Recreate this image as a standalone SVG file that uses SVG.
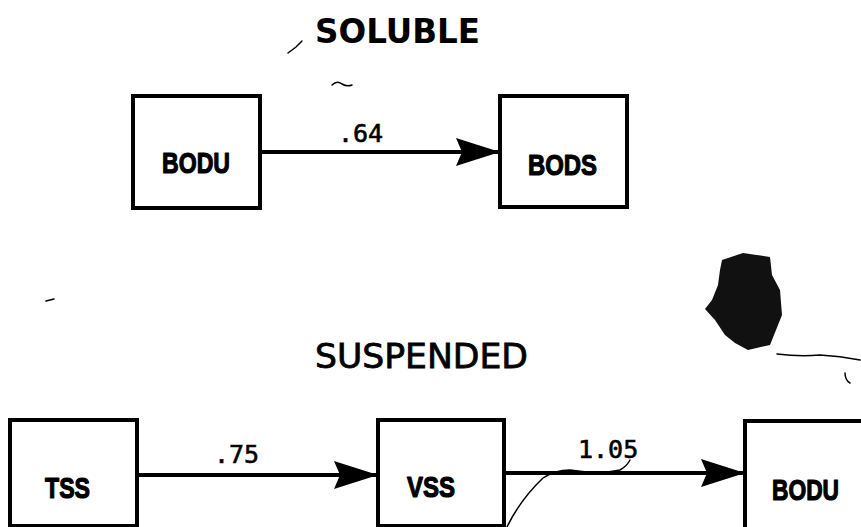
<svg xmlns="http://www.w3.org/2000/svg" width="861" height="527" viewBox="0 0 861 527">
<style>
.box{fill:#fff;stroke:#000;stroke-width:4}
.lbl{font-family:"Liberation Sans",Arial,sans-serif;font-weight:bold;font-size:30px;fill:#000;stroke:#000;stroke-width:1.2;stroke-linejoin:round}
.ttl{font-family:"DejaVu Sans",sans-serif;font-size:34px;fill:#000;stroke:#000;stroke-width:0.8}
.num{font-family:"DejaVu Sans Mono","Liberation Mono",monospace;font-size:25px;fill:#000;stroke:#000;stroke-width:0.6}
.edge{stroke:#000;stroke-width:4;fill:none}
.mark{stroke:#000;stroke-width:1.5;fill:none;stroke-linecap:round}
</style>
<defs>
<marker id="ah" markerUnits="userSpaceOnUse" markerWidth="46" markerHeight="30" refX="44" refY="15" orient="auto">
<path d="M0,1 L44,15 L0,29 L6,15 Z" fill="#000"/>
</marker>
</defs>
<rect width="861" height="527" fill="#fff"/>
<text class="ttl" x="315" y="43" textLength="165" lengthAdjust="spacingAndGlyphs" style="font-weight:bold;stroke-width:0">SOLUBLE</text>
<text class="ttl" x="315" y="368" textLength="213" lengthAdjust="spacingAndGlyphs">SUSPENDED</text>
<g id="connectors">
<line class="edge" x1="260" y1="152" x2="500" y2="152" marker-end="url(#ah)"/>
<line class="edge" x1="137" y1="475" x2="378" y2="475" marker-end="url(#ah)"/>
<line class="edge" x1="505" y1="473" x2="745" y2="473" marker-end="url(#ah)"/>
<text class="num" x="338" y="142">.64</text>
<text class="num" x="214" y="463">.75</text>
<text class="num" x="578" y="458">1.05</text>
</g>
<g id="node-bodu-top">
<rect class="box" x="133" y="96" width="127" height="112"/>
<text class="lbl" x="162" y="173" textLength="68" lengthAdjust="spacingAndGlyphs">BODU</text>
</g>
<g id="node-bods">
<rect class="box" x="500" y="96" width="127" height="111"/>
<text class="lbl" x="528" y="175" textLength="69" lengthAdjust="spacingAndGlyphs">BODS</text>
</g>
<g id="node-tss">
<rect class="box" x="10" y="420" width="127" height="106"/>
<text class="lbl" x="45" y="498" textLength="45" lengthAdjust="spacingAndGlyphs">TSS</text>
</g>
<g id="node-vss">
<rect class="box" x="378" y="420" width="126" height="106"/>
<text class="lbl" x="407" y="497" textLength="48" lengthAdjust="spacingAndGlyphs">VSS</text>
</g>
<g id="node-bodu-bottom">
<path class="box" d="M863,421 L745,421 L745,529"/>
<text class="lbl" x="772" y="500" textLength="67" lengthAdjust="spacingAndGlyphs">BODU</text>
</g>
<g id="scan-marks">
<path class="mark" d="M288,53 L296,47 L302,41" stroke-width="3"/>
<path class="mark" d="M332,85 Q337,80 342,84 Q347,87 352,85" stroke-width="3"/>
<path d="M722,260 L743,253 L770,257 L772,275 L780,290 L782,315 L776,330 L770,345 L748,350 L735,343 L725,335 L715,320 L705,309 L712,300 L718,285 L720,270 Z" fill="#111"/>
<path class="mark" d="M777,354 Q800,357 820,355 Q840,356 860,360" stroke-width="2"/>
<path class="mark" d="M845,373 Q845,380 850,383"/>
<path class="mark" d="M507,527 Q520,500 543,478 Q555,470 570,470 Q600,475 620,470 Q627,466 630,460"/>
<path class="mark" d="M46,301 L54,299" stroke-width="2.5"/>
</g>
</svg>
